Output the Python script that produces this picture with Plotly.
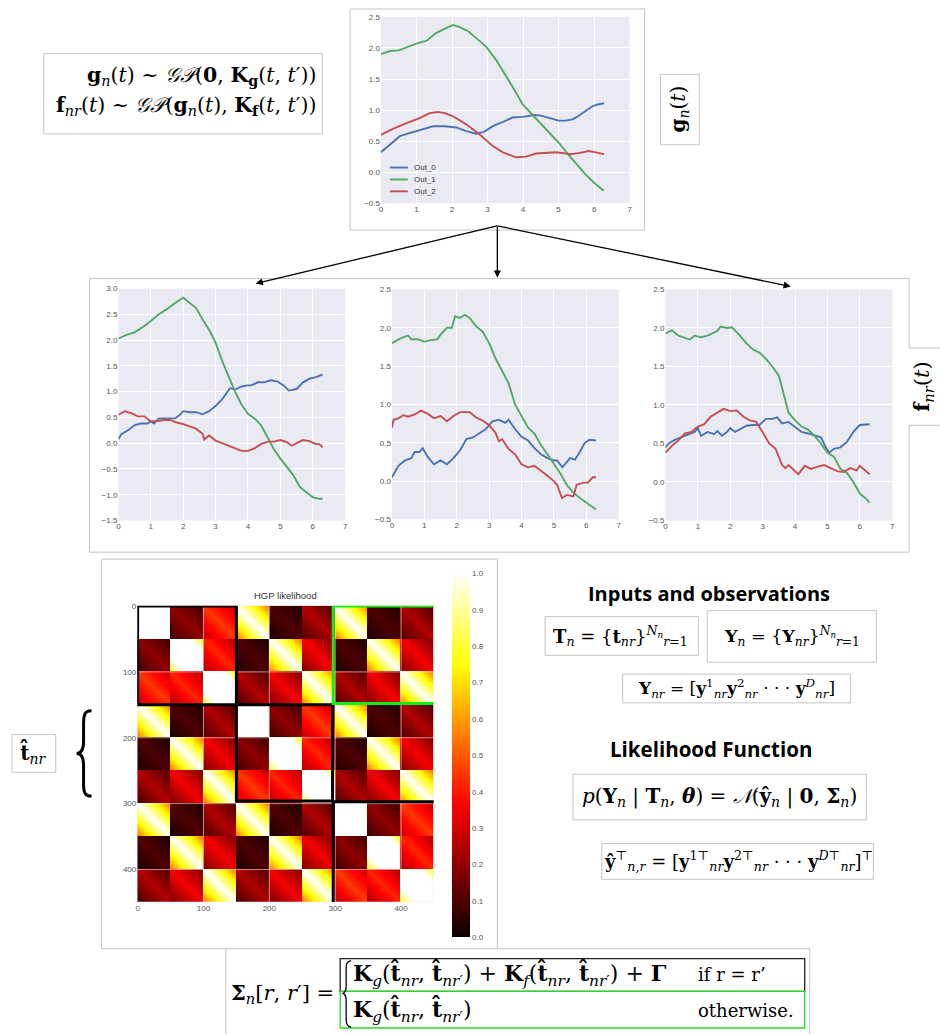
import numpy as np
import plotly.graph_objects as go

W, H = 940, 1034
def px(x): return x / W
def py(y): return 1 - y / H

BLUE, GREEN, RED = "#4C72B0", "#55A868", "#C44E52"
TICKFONT = dict(family="Liberation Sans, Arial", size=8, color="#555555")
SERIF = "DejaVu Serif"

# ---------------- top plot g_n(t) ----------------
g0_t = [0, 0.25, 0.53, 0.8, 1.1, 1.47, 1.8, 2.12, 2.4, 2.68, 2.9, 3.15, 3.4, 3.7, 4.0, 4.3, 4.5, 4.73, 5.0, 5.2, 5.39, 5.55, 5.67, 5.8, 5.95, 6.1, 6.28]
g0_v = [0.32, 0.45, 0.58, 0.63, 0.68, 0.74, 0.74, 0.72, 0.66, 0.62, 0.65, 0.74, 0.80, 0.88, 0.89, 0.92, 0.91, 0.87, 0.83, 0.83, 0.85, 0.90, 0.95, 1.00, 1.06, 1.09, 1.11]
g1_t = [0, 0.25, 0.5, 0.75, 1.0, 1.3, 1.55, 1.8, 2.03, 2.2, 2.45, 2.7, 2.96, 3.25, 3.5, 3.75, 3.99, 4.25, 4.5, 4.75, 5.01, 5.25, 5.5, 5.75, 6.0, 6.27]
g1_v = [1.90, 1.95, 1.96, 2.02, 2.07, 2.12, 2.24, 2.31, 2.37, 2.34, 2.27, 2.15, 2.02, 1.80, 1.57, 1.33, 1.09, 0.93, 0.78, 0.62, 0.47, 0.30, 0.13, -0.03, -0.17, -0.30]
g2_t = [0, 0.35, 0.72, 1.09, 1.37, 1.6, 1.8, 2.03, 2.4, 2.77, 3.15, 3.43, 3.8, 4.08, 4.36, 4.6, 4.92, 5.1, 5.34, 5.6, 5.85, 6.05, 6.28]
g2_v = [0.60, 0.70, 0.79, 0.87, 0.95, 0.97, 0.95, 0.90, 0.77, 0.61, 0.42, 0.32, 0.24, 0.25, 0.30, 0.31, 0.32, 0.31, 0.29, 0.31, 0.34, 0.32, 0.29]
series_names = ["Out_0", "Out_1", "Out_2"]

# ---------------- middle plots f_nr(t) ----------------
a0_t = [0, 0.1, 0.3, 0.5, 0.7, 0.9, 1.0, 1.1, 1.25, 1.5, 1.75, 1.9, 2.0, 2.2, 2.4, 2.6, 2.8, 3.0, 3.2, 3.35, 3.45, 3.6, 3.8, 4.0, 4.1, 4.3, 4.5, 4.7, 4.9, 5.1, 5.26, 5.5, 5.7, 5.9, 6.1, 6.3]
a0_v = [0.08, 0.18, 0.25, 0.35, 0.38, 0.38, 0.42, 0.38, 0.48, 0.48, 0.48, 0.55, 0.62, 0.60, 0.60, 0.56, 0.62, 0.72, 0.85, 0.98, 1.07, 1.04, 1.10, 1.12, 1.12, 1.18, 1.18, 1.22, 1.20, 1.12, 1.02, 1.05, 1.18, 1.25, 1.28, 1.33]
a1_t = [0, 0.25, 0.5, 0.75, 1.0, 1.25, 1.5, 1.75, 2.0, 2.2, 2.4, 2.6, 2.8, 3.0, 3.2, 3.4, 3.6, 3.8, 4.0, 4.2, 4.4, 4.6, 4.8, 5.0, 5.2, 5.4, 5.6, 5.8, 6.0, 6.2, 6.3]
a1_v = [2.03, 2.10, 2.15, 2.25, 2.37, 2.50, 2.60, 2.72, 2.82, 2.72, 2.62, 2.40, 2.20, 1.95, 1.60, 1.30, 1.00, 0.75, 0.57, 0.48, 0.35, 0.12, -0.12, -0.30, -0.45, -0.62, -0.85, -0.95, -1.05, -1.08, -1.08]
a2_t = [0, 0.2, 0.4, 0.6, 0.8, 1.0, 1.2, 1.4, 1.6, 1.8, 2.0, 2.2, 2.4, 2.6, 2.65, 2.8, 3.0, 3.2, 3.4, 3.6, 3.8, 4.0, 4.2, 4.4, 4.6, 4.8, 5.0, 5.2, 5.35, 5.5, 5.7, 5.9, 6.1, 6.2, 6.3]
a2_v = [0.55, 0.62, 0.58, 0.52, 0.52, 0.42, 0.43, 0.45, 0.45, 0.40, 0.37, 0.32, 0.28, 0.18, 0.07, 0.15, 0.05, 0.00, -0.05, -0.10, -0.15, -0.15, -0.10, -0.02, 0.03, 0.03, 0.06, 0.02, -0.05, 0.00, 0.06, 0.04, -0.02, -0.02, -0.08]

b0_t = [0, 0.2, 0.4, 0.6, 0.7, 0.85, 0.95, 1.1, 1.3, 1.5, 1.7, 1.9, 2.1, 2.3, 2.5, 2.7, 2.9, 3.1, 3.3, 3.5, 3.6, 3.8, 4.0, 4.2, 4.4, 4.6, 4.8, 5.0, 5.1, 5.26, 5.5, 5.65, 5.8, 5.95, 6.1, 6.3]
b0_v = [0.05, 0.20, 0.27, 0.30, 0.38, 0.38, 0.43, 0.32, 0.22, 0.27, 0.22, 0.30, 0.40, 0.55, 0.57, 0.62, 0.68, 0.78, 0.80, 0.76, 0.80, 0.68, 0.58, 0.53, 0.43, 0.35, 0.30, 0.27, 0.27, 0.18, 0.30, 0.28, 0.38, 0.50, 0.54, 0.53]
b1_t = [0, 0.3, 0.5, 0.6, 0.8, 1.0, 1.2, 1.4, 1.5, 1.7, 1.85, 1.95, 2.1, 2.25, 2.4, 2.6, 2.8, 3.0, 3.2, 3.3, 3.5, 3.6, 3.8, 4.0, 4.2, 4.4, 4.6, 4.8, 5.0, 5.2, 5.4, 5.6, 5.8, 6.0, 6.2, 6.3]
b1_v = [1.80, 1.87, 1.90, 1.85, 1.85, 1.82, 1.84, 1.85, 1.91, 2.00, 2.00, 2.15, 2.13, 2.17, 2.13, 2.02, 1.95, 1.80, 1.60, 1.52, 1.35, 1.28, 1.00, 0.85, 0.70, 0.62, 0.47, 0.35, 0.22, 0.10, -0.05, -0.15, -0.22, -0.28, -0.33, -0.37]
b2_t = [0, 0.05, 0.2, 0.35, 0.5, 0.7, 0.9, 1.1, 1.3, 1.5, 1.7, 1.9, 2.1, 2.4, 2.6, 2.8, 3.0, 3.2, 3.3, 3.4, 3.6, 3.8, 4.0, 4.2, 4.4, 4.6, 4.8, 5.0, 5.1, 5.25, 5.4, 5.6, 5.7, 5.9, 6.05, 6.2, 6.3]
b2_v = [0.70, 0.80, 0.82, 0.86, 0.84, 0.87, 0.92, 0.88, 0.82, 0.85, 0.78, 0.85, 0.90, 0.90, 0.83, 0.79, 0.73, 0.63, 0.52, 0.55, 0.42, 0.35, 0.22, 0.18, 0.20, 0.14, 0.07, 0.00, -0.05, -0.22, -0.18, -0.20, -0.05, -0.02, -0.02, 0.05, 0.05]

c0_t = [0, 0.1, 0.3, 0.5, 0.7, 0.9, 1.0, 1.1, 1.3, 1.5, 1.6, 1.75, 1.9, 2.0, 2.15, 2.3, 2.5, 2.7, 2.9, 3.1, 3.3, 3.45, 3.6, 3.8, 4.0, 4.2, 4.4, 4.6, 4.8, 4.95, 5.05, 5.2, 5.4, 5.6, 5.8, 6.0, 6.3]
c0_v = [0.45, 0.50, 0.55, 0.58, 0.62, 0.65, 0.70, 0.60, 0.65, 0.62, 0.66, 0.60, 0.65, 0.70, 0.65, 0.68, 0.73, 0.74, 0.74, 0.82, 0.82, 0.84, 0.76, 0.78, 0.72, 0.65, 0.63, 0.60, 0.58, 0.45, 0.38, 0.43, 0.45, 0.52, 0.65, 0.74, 0.75]
c1_t = [0, 0.2, 0.4, 0.6, 0.75, 0.9, 1.1, 1.3, 1.5, 1.6, 1.7, 1.9, 2.05, 2.2, 2.3, 2.5, 2.7, 2.9, 3.1, 3.3, 3.5, 3.6, 3.8, 4.0, 4.2, 4.4, 4.6, 4.8, 5.0, 5.2, 5.4, 5.6, 5.8, 6.0, 6.2, 6.3]
c1_v = [1.93, 1.97, 1.90, 1.87, 1.85, 1.90, 1.88, 1.90, 1.94, 1.96, 2.02, 2.00, 2.01, 1.95, 1.90, 1.80, 1.72, 1.68, 1.60, 1.50, 1.38, 1.22, 0.90, 0.80, 0.72, 0.68, 0.60, 0.50, 0.38, 0.33, 0.17, 0.12, 0.00, -0.15, -0.22, -0.27]
c2_t = [0, 0.2, 0.4, 0.6, 0.8, 1.0, 1.2, 1.4, 1.6, 1.8, 2.0, 2.2, 2.4, 2.6, 2.8, 3.0, 3.2, 3.4, 3.6, 3.7, 3.8, 4.0, 4.1, 4.3, 4.5, 4.7, 4.9, 5.1, 5.3, 5.5, 5.7, 5.9, 6.0, 6.3]
c2_v = [0.38, 0.47, 0.54, 0.63, 0.65, 0.72, 0.75, 0.85, 0.90, 0.95, 0.92, 0.93, 0.85, 0.80, 0.78, 0.65, 0.50, 0.43, 0.22, 0.18, 0.22, 0.14, 0.10, 0.21, 0.17, 0.20, 0.22, 0.18, 0.14, 0.13, 0.18, 0.15, 0.21, 0.10]

# ---------------- heatmap (HGP likelihood) block values ----------------
heat_size = 450
n_reps, n_outputs = 3, 3
# value on the diagonal of each sub-block (peak) and at its far corners (edge)
within_peak = [[1.60, 0.20, 0.45], [0.20, 1.30, 0.42], [0.45, 0.42, 1.30]]
within_edge = [[1.10, 0.08, 0.28], [0.08, 0.80, 0.25], [0.28, 0.25, 0.80]]
cross_peak = [[1.00, 0.10, 0.25], [0.10, 1.00, 0.35], [0.25, 0.35, 1.00]]
cross_edge = [[0.55, 0.03, 0.10], [0.03, 0.55, 0.18], [0.10, 0.18, 0.55]]
heat_ticks = [0, 100, 200, 300, 400]
cbar_ticks = [0.0, 0.1, 0.2, 0.3, 0.4, 0.5, 0.6, 0.7, 0.8, 0.9, 1.0]

cell = 2
m = heat_size // (n_reps * n_outputs) // cell
dist = np.abs(np.arange(m)[:, None] - np.arange(m)[None, :]) / (m - 1)
rows = []
for r1 in range(n_reps):
    for o1 in range(n_outputs):
        row = []
        for r2 in range(n_reps):
            for o2 in range(n_outputs):
                pk = within_peak if r1 == r2 else cross_peak
                ed = within_edge if r1 == r2 else cross_edge
                p, e = pk[o1][o2], ed[o1][o2]
                row.append(p + (e - p) * dist)
        rows.append(np.hstack(row))
Z = np.round(np.clip(np.vstack(rows), 0, 1), 3)

fig = go.Figure()

def add_lines(ts, vs, xa, ya):
    for t, v, c, nm in zip(ts, vs, [BLUE, GREEN, RED], series_names):
        fig.add_trace(go.Scatter(x=t, y=v, mode="lines", name=nm, xaxis=xa, yaxis=ya,
                                 line=dict(color=c, width=1.9), showlegend=False))

add_lines([g0_t, g1_t, g2_t], [g0_v, g1_v, g2_v], "x", "y")
add_lines([a0_t, a1_t, a2_t], [a0_v, a1_v, a2_v], "x2", "y2")
add_lines([b0_t, b1_t, b2_t], [b0_v, b1_v, b2_v], "x3", "y3")
add_lines([c0_t, c1_t, c2_t], [c0_v, c1_v, c2_v], "x4", "y4")

hot = [[0.0, "#0b0000"], [0.365, "#ff0000"], [0.746, "#ffff00"], [1.0, "#ffffff"]]
fig.add_trace(go.Heatmap(z=Z, x0=cell / 2 - 0.5, dx=cell, y0=cell / 2 - 0.5, dy=cell,
                         xaxis="x5", yaxis="y5", colorscale=hot, zmin=0, zmax=1,
                         zsmooth=False, showscale=True,
                         colorbar=dict(x=px(452), xanchor="left", y=py(758), yanchor="middle",
                                       len=(942 - 575) / H, lenmode="fraction",
                                       thickness=18, thicknessmode="pixels",
                                       tickvals=cbar_ticks, tickformat=".1f",
                                       outlinewidth=0, ticks="", tickfont=TICKFONT, ypad=0, xpad=0)))

def lineax(dom_x, dom_y, yr, anchor):
    xa = dict(domain=[px(dom_x[0]), px(dom_x[1])], range=[0, 7], dtick=1, tick0=0,
              showgrid=True, gridcolor="white", gridwidth=1, zeroline=False,
              showline=False, ticks="", tickfont=TICKFONT, fixedrange=True, anchor="y" + anchor)
    ya = dict(domain=[py(dom_y[1]), py(dom_y[0])], range=yr, dtick=0.5, tick0=0,
              tickformat=".1f", showgrid=True, gridcolor="white", gridwidth=1,
              zeroline=False, showline=False, ticks="", tickfont=TICKFONT, fixedrange=True,
              anchor="x" + anchor)
    return xa, ya

xa1, ya1 = lineax((381, 631), (13, 201), [-0.5, 2.5], "")
xa2, ya2 = lineax((117, 345), (287, 521), [-1.5, 3.0], "2")
xa3, ya3 = lineax((392, 620), (288, 520), [-0.5, 2.5], "3")
xa4, ya4 = lineax((667, 895), (288, 521), [-0.5, 2.5], "4")

xa5 = dict(domain=[px(136), px(434)], range=[-0.5, heat_size - 0.5], tickvals=heat_ticks,
           showgrid=False, zeroline=False, ticks="", tickfont=TICKFONT, anchor="y5")
ya5 = dict(domain=[py(906), py(607)], range=[heat_size - 0.5, -0.5], tickvals=heat_ticks,
           showgrid=False, zeroline=False, ticks="", tickfont=TICKFONT, anchor="x5")

shapes = []
BOX = "#c4c4c4"
def rect_px(x0, y0, x1, y1, color=BOX, width=1):
    shapes.append(dict(type="rect", xref="paper", yref="paper", x0=px(x0), x1=px(x1),
                       y0=py(y1), y1=py(y0), line=dict(color=color, width=width),
                       fillcolor="rgba(0,0,0,0)", layer="above"))

def line_px(x0, y0, x1, y1, color=BOX, width=1):
    shapes.append(dict(type="line", xref="paper", yref="paper", x0=px(x0), x1=px(x1),
                       y0=py(y0), y1=py(y1), line=dict(color=color, width=width), layer="above"))

# panel boxes
rect_px(100, 560, 498, 953)                       # heatmap box
line_px(225, 953, 225, 1040); line_px(498, 953, 812, 953); line_px(812, 953, 812, 1040)  # sigma box
rect_px(350, 5, 646, 228)                         # top plot box
line_px(88, 277, 912, 277); line_px(88, 553, 912, 553); line_px(88, 277, 88, 553)       # middle box
line_px(912, 277, 912, 347); line_px(912, 425, 912, 553)
line_px(912, 347, 948, 347); line_px(912, 425, 948, 425)                                # f label box
rect_px(42, 50, 322, 131)             # prior equation box
rect_px(662, 71, 701, 142)            # g label box
rect_px(10, 737, 54, 775)             # t hat label box
rect_px(546, 618, 700, 657)
rect_px(709, 612, 879, 664)
rect_px(624, 676, 853, 705)
rect_px(574, 777, 869, 823)
rect_px(603, 847, 876, 883)
rect_px(340, 963, 807, 996, color="#222222", width=1.3)
rect_px(340, 996, 807, 1033, color="#22dd22", width=1.3)

# legend of the top plot
for i, (nm, c) in enumerate(zip(series_names, [BLUE, GREEN, RED])):
    line_px(390, 165 + 12 * i, 408, 165 + 12 * i, color=c, width=1.9)

# heatmap gridlines at the tick positions
for v in heat_ticks[1:]:
    shapes.append(dict(type="line", xref="x5", yref="y5", x0=v, x1=v, y0=-0.5, y1=heat_size - 0.5,
                       line=dict(color="rgba(255,255,255,0.55)", width=1), layer="above"))
    shapes.append(dict(type="line", xref="x5", yref="y5", y0=v, y1=v, x0=-0.5, x1=heat_size - 0.5,
                       line=dict(color="rgba(255,255,255,0.55)", width=1), layer="above"))
# block outlines
for (x0, x1, y0, y1, col) in [(0, 150, 0, 150, "black"), (150, 296, 150, 296, "black"),
                              (297, 458, 297, 456, "black"), (297, 458, 0, 148, "#11ee11")]:
    shapes.append(dict(type="rect", xref="x5", yref="y5", x0=x0, x1=x1, y0=y0, y1=y1,
                       line=dict(color=col, width=3), layer="above"))

def path_px(cmds, width=2.5):
    s = ""
    for c, pts in cmds:
        s += c + " " + " ".join(f"{px(x):.5f},{py(y):.5f}" for x, y in pts) + " "
    shapes.append(dict(type="path", xref="paper", yref="paper", path=s.strip(),
                       line=dict(color="black", width=width), layer="above"))

# big brace next to t_hat
path_px([("M", [(90, 713)]), ("C", [(83, 713), (82, 717), (82, 727)]), ("L", [(82, 744)]),
         ("C", [(82, 752), (80, 756), (75, 756)]), ("C", [(80, 756), (82, 760), (82, 768)]),
         ("L", [(82, 786)]), ("C", [(82, 795), (83, 799), (90, 799)])], width=3)
# cases brace
path_px([("M", [(351, 965)]), ("C", [(346, 966), (346, 969), (346, 975)]), ("L", [(346, 991)]),
         ("C", [(346, 995), (345, 997), (343, 998)]), ("C", [(345, 999), (346, 1001), (346, 1005)]),
         ("L", [(346, 1022)]), ("C", [(346, 1028), (346, 1031), (351, 1032)])], width=1.3)

ann = []
def text_px(x, y, s, size=16, xanchor="center", family=SERIF, angle=0, color="black"):
    ann.append(dict(x=px(x), y=py(y), xref="paper", yref="paper", text=s, showarrow=False,
                    xanchor=xanchor, yanchor="middle", textangle=angle,
                    font=dict(family=family, size=size, color=color)))

for i, nm in enumerate(series_names):
    text_px(412, 165 + 12 * i, nm, 8, "left", family="Liberation Sans, Arial", color="#333333")

T = "<i>t</i>"
text_px(318, 73, "<b>g</b><sub><i>n</i></sub>(" + T + ") ~ <i>𝒢𝒫</i>(<b>0</b>, <b>K</b><sub><b>g</b></sub>(" + T + ", " + T + "′))", 20.5, "right")
text_px(318, 103, "<b>f</b><sub><i>nr</i></sub>(" + T + ") ~ <i>𝒢𝒫</i>(<b>g</b><sub><i>n</i></sub>(" + T + "), <b>K</b><sub><b>f</b></sub>(" + T + ", " + T + "′))", 20.5, "right")
text_px(681, 106, "<b>g</b><sub><i>n</i></sub>(" + T + ")", 20, angle=-90)
text_px(926, 386, "<b>f</b><sub><i>nr</i></sub>(" + T + ")", 21, angle=-90)
text_px(32, 756, "<b>t̂</b><sub><i>nr</i></sub>", 20)
text_px(285, 597, "HGP likelihood", 9.5, family="Liberation Sans, Arial", color="#333333")

SANS_B = "Open Sans"
text_px(711, 595, "<b>Inputs and observations</b>", 20, family=SANS_B)
text_px(713, 752, "<b>Likelihood Function</b>", 20.5, family=SANS_B)
text_px(622, 638, "<b>T</b><sub><i>n</i></sub> = {<b>t</b><sub><i>nr</i></sub>}<sup><i>N<sub>n</sub></i></sup><sub><i>r</i>=1</sub>", 18)
text_px(794, 638, "<b>Y</b><sub><i>n</i></sub> = {<b>Y</b><sub><i>nr</i></sub>}<sup><i>N<sub>n</sub></i></sup><sub><i>r</i>=1</sub>", 17.5)
text_px(738, 691, "<b>Y</b><sub><i>nr</i></sub> = [<b>y</b><sup>1</sup><sub><i>nr</i></sub><b>y</b><sup>2</sup><sub><i>nr</i></sub> · · · <b>y</b><sup><i>D</i></sup><sub><i>nr</i></sub>]", 17)
text_px(721, 800, "<i>p</i>(<b>Y</b><sub><i>n</i></sub> | <b>T</b><sub><i>n</i></sub>, <b><i>θ</i></b>) = <i>𝒩</i>(<b>ŷ</b><sub><i>n</i></sub> | <b>0</b>, <b>Σ</b><sub><i>n</i></sub>)", 20)
text_px(740, 865, "<b>ŷ</b><sup>⊤</sup><sub><i>n,r</i></sub> = [<b>y</b><sup>1⊤</sup><sub><i>nr</i></sub><b>y</b><sup>2⊤</sup><sub><i>nr</i></sub> · · · <b>y</b><sup><i>D</i>⊤</sup><sub><i>nr</i></sub>]<sup>⊤</sup>", 18)

TH = "<b>t̂</b>"
text_px(282, 998, "<b>Σ</b><sub><i>n</i></sub>[<i>r</i>, <i>r</i>′] =", 21)
text_px(351, 979, "<b>K</b><sub><i>g</i></sub>(" + TH + "<sub><i>nr</i></sub>, " + TH + "<sub><i>nr</i>′</sub>) + <b>K</b><sub><i>f</i></sub>(" + TH + "<sub><i>nr</i></sub>, " + TH + "<sub><i>nr</i>′</sub>) + <b>Γ</b>", 22, "left")
text_px(698, 979, "if r = r’", 18, "left")
text_px(351, 1015, "<b>K</b><sub><i>g</i></sub>(" + TH + "<sub><i>nr</i></sub>, " + TH + "<sub><i>nr</i>′</sub>)", 22, "left")
text_px(798, 1015, "otherwise.", 18, "right")

# arrows from the top plot to the three replicate plots
tail = (498, 224)
for hx, hy in [(255, 282), (498, 276), (793, 285)]:
    ann.append(dict(x=px(hx), y=py(hy), xref="paper", yref="paper", text="", showarrow=True,
                    ax=tail[0] - hx, ay=tail[1] - hy, axref="pixel", ayref="pixel",
                    arrowhead=2, arrowsize=1.1, arrowwidth=1.3, arrowcolor="black"))

fig.update_layout(
    width=W, height=H, autosize=False, margin=dict(l=0, r=0, t=0, b=0),
    paper_bgcolor="white", plot_bgcolor="#EAEAF2",
    xaxis=xa1, yaxis=ya1, xaxis2=xa2, yaxis2=ya2, xaxis3=xa3, yaxis3=ya3,
    xaxis4=xa4, yaxis4=ya4, xaxis5=xa5, yaxis5=ya5,
    shapes=shapes, annotations=ann, showlegend=False,
)
fig.write_html("out.html", config={"displayModeBar": False},
               post_script="document.body.style.margin='0px';")
